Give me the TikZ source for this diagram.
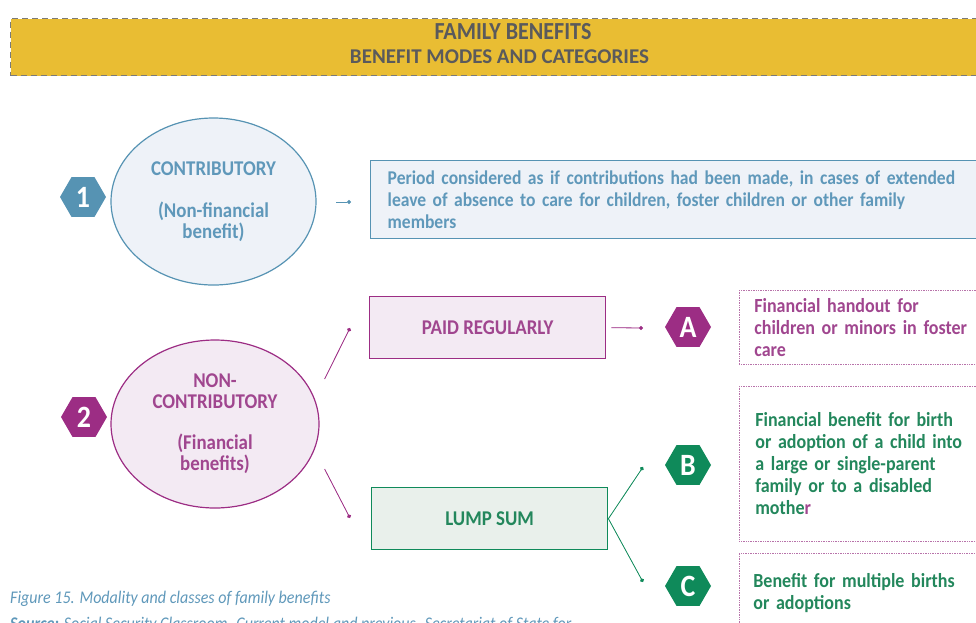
\documentclass[tikz,border=0pt]{standalone}
\usepackage{fontspec}
\setmainfont{Carlito}
\newfontfamily\cond[FakeStretch=0.9]{Carlito}
\usetikzlibrary{shapes.geometric,arrows.meta}
\definecolor{ybg}{HTML}{E9BD33}
\definecolor{ttl}{HTML}{5A5A5C}
\definecolor{bdash}{HTML}{7A7A7A}
\definecolor{bl}{HTML}{5693B3}
\definecolor{blt}{HTML}{5F98BA}
\definecolor{blf}{HTML}{EEF2F8}
\definecolor{pu}{HTML}{9C2D84}
\definecolor{put}{HTML}{A0468F}
\definecolor{puf}{HTML}{F3EAF3}
\definecolor{pud}{HTML}{B873AA}
\definecolor{gr}{HTML}{0F8A5A}
\definecolor{grt}{HTML}{23875C}
\definecolor{grf}{HTML}{E9F0EB}
\begin{document}
\begin{tikzpicture}[x=1pt,y=-1pt,
  txt/.style={font=\cond\bfseries\fontsize{19.5}{22}\selectfont},
  big/.style={font=\cond\bfseries\fontsize{21}{21}\selectfont},
  dtxt/.style={font=\cond\bfseries\fontsize{20}{22}\selectfont},
  hexa/.style={regular polygon, regular polygon sides=6, minimum size=46pt, inner sep=0pt, outer sep=0pt, text=white, font=\cond\bfseries\fontsize{31}{31}\selectfont},
  oval/.style={ellipse, line width=1.2pt, inner sep=0pt, align=center, big},
  rbox/.style={rectangle, line width=1.4pt, inner sep=0pt, anchor=north west, big},
  dbox/.style={rectangle, draw=pud, densely dotted, line width=0.7pt, anchor=north west, inner sep=0pt, align=left, dtxt},
  conn/.style={line width=0.8pt, -{Circle[length=4pt]}},
]
\useasboundingbox (0,0) rectangle (976,622);
\clip (0,0) rectangle (976,622);

% banner
\node[draw=bdash, dash pattern=on 6pt off 4pt, line width=1.4pt, fill=ybg, anchor=north west,
  minimum width=990pt, minimum height=57pt, inner sep=0pt] (banner) at (10,18) {};
\node[text=ttl, font=\cond\bfseries\fontsize{24.5}{24.5}\selectfont] (t1) at (513,32) {FAMILY BENEFITS};
\node[text=ttl, font=\bfseries\fontsize{21}{21}\selectfont] (t2) at (499.5,57) {BENEFIT MODES AND CATEGORIES};

% contributory
\node[oval, draw=bl, fill=blf, text=blt, minimum width=205pt, minimum height=167pt] (e1) at (213.5,201.5)
  {\fontsize{21}{21}\selectfont CONTRIBUTORY\\[21pt](Non-financial\\benefit)};
\node[hexa, fill=bl] (h1) at (83,197) {1};
\node[rectangle, line width=1.4pt, inner sep=0pt, anchor=north west, txt, draw=bl, fill=blf, text=blt,
  minimum width=605pt, minimum height=78pt, align=left,
  text width=588pt, inner xsep=17pt] (b1) at (370,160)
  {Period considered as if contributions had been made, in cases of extended\\leave of absence to care for children, foster children or other family\\members};
\coordinate (d1) at (351,202);
\draw[conn, draw=bl, fill=bl] ([shift={(19.5,0.5)}]e1.east) -- (d1);

% non-contributory
\node[oval, draw=pu, fill=puf, text=put, minimum width=208pt, minimum height=168pt] (e2) at (215,424)
  {\fontsize{21}{25.5}\selectfont NON-\\CONTRIBUTORY\\[20pt](Financial\\benefits)};
\node[hexa, fill=pu] (h2) at (84,417) {2};

\node[rbox, draw=pu, fill=puf, text=put, minimum width=236pt, minimum height=62pt] (paid) at (369,296) {PAID REGULARLY};
\node[rbox, draw=gr, fill=grf, text=grt, minimum width=236pt, minimum height=62pt] (lump) at (371,487) {LUMP SUM};

\coordinate (dp) at (350,328);
\coordinate (dl) at (350,518);
\draw[conn, draw=pu, fill=pu] ([shift={(5,-45)}]e2.east) -- (dp);
\draw[conn, draw=pu, fill=pu] ([shift={(5,45)}]e2.east) -- (dl);

\node[hexa, fill=pu] (ha) at (688,327) {A};
\coordinate (da) at (643,328);
\draw[conn, draw=pu, fill=pu] ([xshift=5pt]paid.east) -- (da);

\node[hexa, fill=gr] (hb) at (688,465) {B};
\node[hexa, fill=gr] (hc) at (688,586) {C};
\coordinate (db) at (643,467);
\coordinate (dc) at (643,582);
\draw[conn, draw=gr, fill=gr] (lump.east) -- (db);
\draw[conn, draw=gr, fill=gr] (lump.east) -- (dc);

% descriptions
\node[dbox, text=put, minimum width=236pt, minimum height=74pt, text width=218pt, inner xsep=15pt] (ba) at (739,290)
  {Financial handout for\\children or minors in foster\\care};
\node[dbox, text=grt, minimum width=236pt, minimum height=155pt, text width=218pt, inner xsep=16pt] (bb) at (739,386)
  {Financial benefit for birth\\or adoption of a child into\\a large or single-parent\\family or to a disabled\\mothe\textcolor{put}{r}};
\node[dbox, text=grt, minimum width=236pt, minimum height=80pt, text width=218pt, inner xsep=14pt] (bc) at (739,553)
  {Benefit for multiple births\\or adoptions};

% caption
\node[anchor=base west, inner sep=0pt, text=blt, font=\cond\itshape\fontsize{17.8}{18}\selectfont] (cap) at (10,603)
  {Figure 15. Modality and classes of family benefits};
\node[anchor=base west, inner sep=0pt, text=blt, font=\cond\itshape\fontsize{17.8}{18}\selectfont] (src) at (10,629)
  {\textbf{Source:} Social Security Classroom. Current model and previous. Secretariat of State for};
\end{tikzpicture}
\end{document}
